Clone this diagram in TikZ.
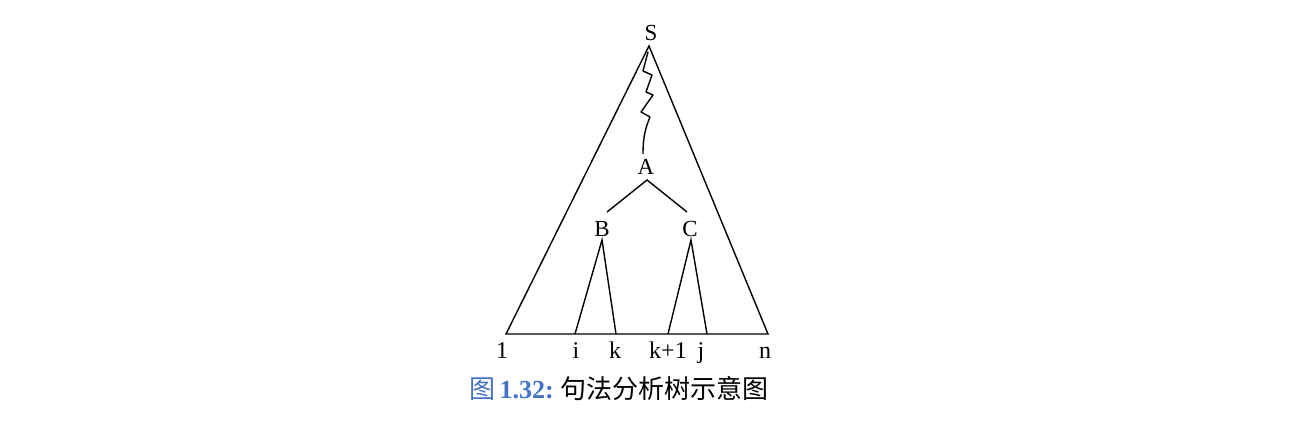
\documentclass[tikz,border=0pt]{standalone}
\usepackage{fontspec}
\setmainfont{Liberation Serif}
\newfontfamily\cjk{Noto Sans CJK SC}
\definecolor{capblue}{RGB}{68,114,196}
\begin{document}
\begin{tikzpicture}[x=0.5pt,y=-0.5pt,
  lbl/.style={inner sep=0pt,font=\fontsize{11.5}{12}\selectfont},
  leaf/.style={inner sep=0pt,font=\fontsize{12}{13}\selectfont},
  edge/.style={line width=0.7pt,line join=miter}]
\useasboundingbox (0,0) rectangle (1296,427);
% labels
\node[lbl] (S) at (651,33) {S};
\node[lbl] (A) at (646,167) {A};
\node[lbl] (B) at (602,229) {B};
\node[lbl] (C) at (690,229) {C};
\node[leaf,anchor=base] (l) at (502,358) {1};
\node[leaf,anchor=base] (i) at (576,358) {i};
\node[leaf,anchor=base] (k) at (615,358) {k};
\node[leaf,anchor=base] (k1) at (668,358) {k+1};
\node[leaf,anchor=base] (j) at (701,358) {j};
\node[leaf,anchor=base] (n) at (765,358) {n};
% coordinates
\coordinate (top) at (649,46);
\coordinate (bl) at (506,334);
\coordinate (br) at (768,334);
\coordinate (Atop) at (647,180);
\coordinate (Bc) at (607,212);
\coordinate (Cc) at (687,212);
\coordinate (Bt) at (602,240);
\coordinate (Ct) at (691,240);
\coordinate (bi) at (575,334);
\coordinate (bk) at (616,334);
\coordinate (bk1) at (668,334);
\coordinate (bj) at (707,334);
\coordinate (sq) at (648,52);
\coordinate (sqA) at (643,154);
% big triangle
\draw[edge] (bl) -- (top) -- (br) -- cycle;
% squiggle
\draw[edge,line join=round] (sq) -- (643,71) -- (652,75) -- (646,92) -- (653,95) -- (641,112) -- (650,117)
  .. controls (646,127) and (643,135) .. (sqA);
% A to B, C
\draw[edge] (Bc) -- (Atop) -- (Cc);
% B and C triangles
\draw[edge] (bi) -- (Bt) -- (bk);
\draw[edge] (bk1) -- (Ct) -- (bj);
% caption
\node[anchor=west,inner sep=0pt,font=\fontsize{13}{14}\selectfont] (cap) at (469,389)
  {{\color{capblue}{\cjk 图}\,\textbf{1.32:}}\ {\cjk 句法分析树示意图}};
\end{tikzpicture}
\end{document}
